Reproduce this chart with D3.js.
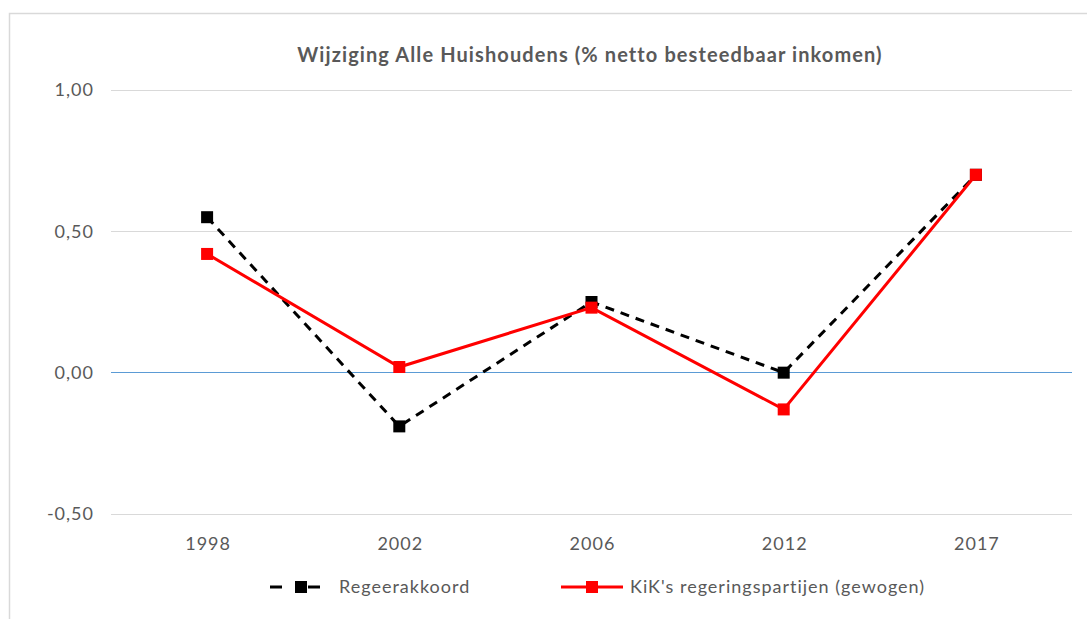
<!DOCTYPE html>
<html>
<head>
<meta charset="utf-8">
<script src="https://cdn.jsdelivr.net/npm/d3@7"></script>
<style>
  body { margin: 0; background: #fff; }
  svg { display: block; font-family: Lato, "Open Sans", sans-serif; }
</style>
</head>
<body>
<svg width="1087" height="619"></svg>
<script>
const years = ["1998", "2002", "2006", "2012", "2017"]
const regeerakkoord = [0.55, -0.19, 0.25, 0.00, 0.70]
const kik = [0.42, 0.02, 0.23, -0.13, 0.70]
const yTicks = [-0.5, 0, 0.5, 1]

const svg = d3.select("svg")
const plotLeft = 111, plotRight = 1072, plotTop = 90, plotBottom = 514

// chart border
svg.append("rect")
  .attr("x", 9.5).attr("y", 13.5)
  .attr("width", 1100).attr("height", 700)
  .attr("fill", "#fff").attr("stroke", "#d9d9d9").attr("stroke-width", 1.5)

svg.append("text")
  .attr("x", 590).attr("y", 62)
  .attr("text-anchor", "middle")
  .attr("font-size", 20).attr("font-weight", "bold")
  .attr("letter-spacing", 1.1)
  .attr("fill", "#595959")
  .text("Wijziging Alle Huishoudens (% netto besteedbaar inkomen)")

const x = d3.scaleBand().domain(years).range([plotLeft, plotRight])
const y = d3.scaleLinear().domain([-0.5, 1]).range([plotBottom, plotTop])

const fmt = d => d3.format(".2f")(d).replace(".", ",").replace("−", "-")

// grid
const grid = svg.append("g")
grid.selectAll("line").data(yTicks.filter(d => d !== 0)).join("line")
  .attr("x1", plotLeft).attr("x2", plotRight)
  .attr("y1", d => Math.round(y(d)) + 0.5).attr("y2", d => Math.round(y(d)) + 0.5)
  .style("stroke", "#d9d9d9")
  .attr("stroke-width", 1)

// zero line in blue
svg.append("line")
  .attr("x1", plotLeft).attr("x2", plotRight)
  .attr("y1", Math.round(y(0)) - 0.5).attr("y2", Math.round(y(0)) - 0.5)
  .style("stroke", "#5b9bd5")
  .attr("stroke-width", 1.2)

// y labels
svg.append("g").selectAll("text").data(yTicks).join("text")
  .attr("x", 94).attr("y", d => y(d))
  .attr("dy", "0.35em")
  .attr("text-anchor", "end")
  .attr("font-size", 18).attr("letter-spacing", 1).attr("fill", "#595959")
  .text(fmt)

// x labels
svg.append("g").selectAll("text").data(years).join("text")
  .attr("x", d => x(d) + x.bandwidth() / 2 + 1).attr("y", 550)
  .attr("text-anchor", "middle")
  .attr("font-size", 18).attr("letter-spacing", 1).attr("fill", "#595959")
  .text(d => d)

const line = d3.line()
  .x((d, i) => x(years[i]) + x.bandwidth() / 2)
  .y(d => y(d))

const series = [
  { name: "Regeerakkoord", values: regeerakkoord, color: "#000", dash: "9,7" },
  { name: "KiK's regeringspartijen (gewogen)", values: kik, color: "#ff0000", dash: null }
]

series.forEach(s => {
  svg.append("path")
    .datum(s.values)
    .attr("d", line)
    .attr("fill", "none")
    .attr("stroke", s.color)
    .attr("stroke-width", 3)
    .attr("stroke-dasharray", s.dash)
  svg.append("g").selectAll("rect").data(s.values).join("rect")
    .attr("x", (d, i) => x(years[i]) + x.bandwidth() / 2 - 6)
    .attr("y", d => y(d) - 6)
    .attr("width", 12).attr("height", 12)
    .attr("fill", s.color)
})

// legend
const legendX = [270, 561]
series.forEach((s, i) => {
  const g = svg.append("g").attr("transform", "translate(" + legendX[i] + ",587)")
  g.append("line")
    .attr("x1", 0).attr("x2", 62).attr("y1", 0).attr("y2", 0)
    .attr("stroke", s.color).attr("stroke-width", 3)
    .attr("stroke-dasharray", s.dash ? "12,13,0,13,12" : null)
  g.append("rect")
    .attr("x", 25).attr("y", -6).attr("width", 12).attr("height", 12)
    .attr("fill", s.color)
  g.append("text")
    .attr("x", 69).attr("y", 0).attr("dy", "0.35em")
    .attr("font-size", 18).attr("letter-spacing", 1).attr("fill", "#595959")
    .text(s.name)
})
</script>
</body>
</html>
